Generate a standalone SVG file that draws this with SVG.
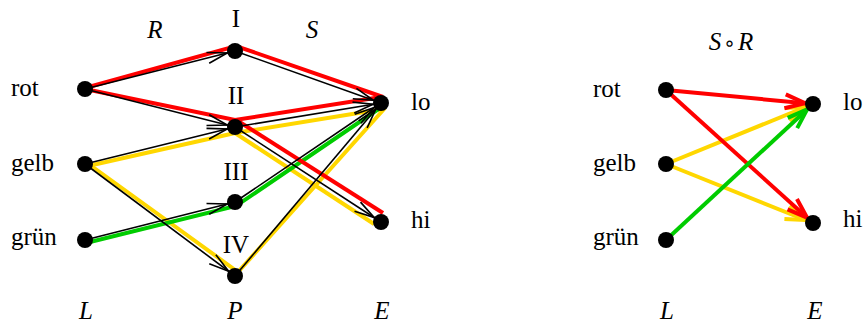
<svg xmlns="http://www.w3.org/2000/svg" width="866" height="325" viewBox="0 0 866 325">
<style>
text{font-family:"Liberation Serif","Times New Roman",serif;font-size:25px;fill:#000}
.it{font-style:italic}
.blk{stroke:#000;stroke-width:1.6;fill:none}
.c{fill:none;stroke-width:4;stroke-linejoin:miter;stroke-linecap:butt}
.red{stroke:#ff0000}
.yel{stroke:#ffd700}
.grn{stroke:#00cc00}
.node{fill:#000}
</style>
<defs>
<marker id="ab" markerUnits="userSpaceOnUse" viewBox="-24 -8 26 16" markerWidth="26" markerHeight="16" refX="8" refY="0" orient="auto" overflow="visible">
<path d="M-20,-5.5 L0,0 L-20,5.5" fill="none" stroke="#000" stroke-width="1.6"/>
</marker>
<marker id="ar" markerUnits="userSpaceOnUse" viewBox="-26 -10 30 20" markerWidth="30" markerHeight="20" refX="8" refY="0" orient="auto" overflow="visible">
<path d="M-20,-7 L0,0 L-20,7" fill="none" stroke="#ff0000" stroke-width="4"/>
</marker>
<marker id="ay" markerUnits="userSpaceOnUse" viewBox="-26 -10 30 20" markerWidth="30" markerHeight="20" refX="8" refY="0" orient="auto" overflow="visible">
<path d="M-20,-7 L0,0 L-20,7" fill="none" stroke="#ffd700" stroke-width="4"/>
</marker>
<marker id="ag" markerUnits="userSpaceOnUse" viewBox="-26 -10 30 20" markerWidth="30" markerHeight="20" refX="8" refY="0" orient="auto" overflow="visible">
<path d="M-20,-7 L0,0 L-20,7" fill="none" stroke="#00cc00" stroke-width="4"/>
</marker>
</defs>

<g id="connectors">
<polyline class="c yel" points="88,166 235,133 383,109"/>
<polyline class="c yel" points="235,133 374,224"/>
<polyline class="c yel" points="90,165 238,272 385,108"/>
<polyline class="c grn" points="86,243 236,206 383,106"/>
<polyline class="c red" points="85,88 236,46 383,97"/>
<polyline class="c red" points="85,89 235,120 381,97"/>
<polyline class="c red" points="238,121 383,213"/>
<line class="blk" x1="85" y1="89" x2="235" y2="51" marker-end="url(#ab)"/>
<line class="blk" x1="85" y1="89" x2="235" y2="127" marker-end="url(#ab)"/>
<line class="blk" x1="85" y1="164" x2="235" y2="127" marker-end="url(#ab)"/>
<line class="blk" x1="85" y1="164" x2="235" y2="276" marker-end="url(#ab)"/>
<line class="blk" x1="85" y1="240" x2="235" y2="202" marker-end="url(#ab)"/>
<line class="blk" x1="235" y1="51" x2="381" y2="103" marker-end="url(#ab)"/>
<line class="blk" x1="235" y1="127" x2="381" y2="103" marker-end="url(#ab)"/>
<line class="blk" x1="235" y1="127" x2="381" y2="222" marker-end="url(#ab)"/>
<line class="blk" x1="235" y1="202" x2="381" y2="103" marker-end="url(#ab)"/>
<line class="blk" x1="235" y1="276" x2="381" y2="103" marker-end="url(#ab)"/>
<line class="c yel" x1="666" y1="164" x2="813" y2="104" marker-end="url(#ay)"/>
<line class="c yel" x1="666" y1="164" x2="813" y2="223" marker-end="url(#ay)"/>
<line class="c red" x1="666" y1="90" x2="813" y2="104" marker-end="url(#ar)"/>
<line class="c red" x1="666" y1="90" x2="813" y2="223" marker-end="url(#ar)"/>
<line class="c grn" x1="666" y1="240" x2="813" y2="104" marker-end="url(#ag)"/>
</g>

<g id="L-rot"><circle class="node" cx="85" cy="89" r="8"/><text x="11" y="96">rot</text></g>
<g id="L-gelb"><circle class="node" cx="85" cy="164" r="8"/><text x="11" y="171">gelb</text></g>
<g id="L-gruen"><circle class="node" cx="85" cy="240" r="8"/><text x="11" y="245">grün</text></g>
<g id="P-I"><circle class="node" cx="235" cy="51" r="8"/><text x="236" y="27" text-anchor="middle">I</text></g>
<g id="P-II"><circle class="node" cx="235" cy="127" r="8"/><text x="236" y="104" text-anchor="middle">II</text></g>
<g id="P-III"><circle class="node" cx="235" cy="202" r="8"/><text x="236" y="180" text-anchor="middle">III</text></g>
<g id="P-IV"><circle class="node" cx="235" cy="276" r="8"/><text x="236" y="253" text-anchor="middle">IV</text></g>
<g id="E-lo"><circle class="node" cx="381" cy="103" r="8"/><text x="411" y="110">lo</text></g>
<g id="E-hi"><circle class="node" cx="381" cy="222" r="8"/><text x="411" y="228">hi</text></g>

<g id="R2-rot"><circle class="node" cx="666" cy="90" r="8"/><text x="593" y="97">rot</text></g>
<g id="R2-gelb"><circle class="node" cx="666" cy="164" r="8"/><text x="593" y="171">gelb</text></g>
<g id="R2-gruen"><circle class="node" cx="666" cy="240" r="8"/><text x="593" y="245">grün</text></g>
<g id="R2-lo"><circle class="node" cx="813" cy="104" r="8"/><text x="843" y="110">lo</text></g>
<g id="R2-hi"><circle class="node" cx="813" cy="223" r="8"/><text x="843" y="227">hi</text></g>

<g id="labels">
<text class="it" x="155" y="38" text-anchor="middle">R</text>
<text class="it" x="312" y="38" text-anchor="middle">S</text>
<text x="731" y="50" text-anchor="middle"><tspan class="it">S</tspan><tspan font-family="DejaVu Sans, sans-serif" font-size="20" dx="2">∘</tspan><tspan class="it" dx="2">R</tspan></text>
<text class="it" x="86" y="319" text-anchor="middle">L</text>
<text class="it" x="235" y="319" text-anchor="middle">P</text>
<text class="it" x="382" y="319" text-anchor="middle">E</text>
<text class="it" x="667" y="319" text-anchor="middle">L</text>
<text class="it" x="815" y="319" text-anchor="middle">E</text>
</g>
</svg>
